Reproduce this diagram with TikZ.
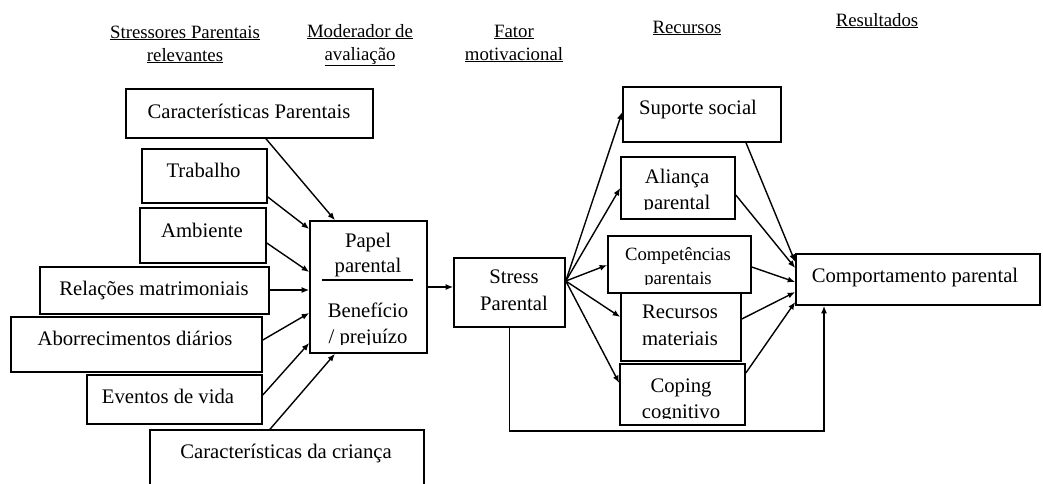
\documentclass[tikz,border=0pt]{standalone}
\usepackage{fontspec}
\setmainfont{Liberation Serif}
\usetikzlibrary{arrows.meta,calc}
\tikzset{
  box/.style={draw, line width=1.6pt, inner sep=0pt},
  txt/.style={font=\fontsize{20.7}{24}\selectfont, inner sep=0pt, anchor=base},
  stxt/.style={font=\fontsize{18.7}{22}\selectfont, inner sep=0pt, anchor=base},
  hdr/.style={font=\fontsize{18.8}{22}\selectfont, inner sep=0pt, anchor=base},
  arr/.style={line width=1.4pt, -{Latex[length=7.5pt,width=6pt]}},
  ln/.style={line width=1.5pt}
}
\begin{document}
\begin{tikzpicture}[x=1pt,y=-1pt]
\clip (0,0) rectangle (1043,483);
\fill[white] (0,0) rectangle (1043,483);

% headers
\node[hdr] (h1a) at (185,38) {\underline{Stressores Parentais}};
\node[hdr] (h1b) at (185,61) {\underline{relevantes}};
\node[hdr] (h2a) at (360,37) {\underline{Moderador de}};
\node[hdr] (h2b) at (360,60) {\underline{avaliação}};
\node[hdr] (h3a) at (514,37) {\underline{Fator}};
\node[hdr] (h3b) at (514,60) {\underline{motivacional}};
\node[hdr] (h4) at (687,33) {\underline{Recursos}};
\node[hdr] (h5) at (877,26) {\underline{Resultados}};

% left boxes
\node[box, minimum width=247pt, minimum height=49pt] (cp) at (249.5,113.5) {};
\node[txt] (cpt) at (249,118) {Características Parentais};
\node[box, minimum width=125pt, minimum height=54pt] (trab) at (204.5,176) {};
\node[txt] (trabt) at (203.5,177) {Trabalho};
\node[box, minimum width=126pt, minimum height=55pt] (amb) at (203,235.5) {};
\node[txt] (ambt) at (202,237) {Ambiente};
\node[box, minimum width=229pt, minimum height=47pt] (rel) at (154.5,290.5) {};
\node[txt] (relt) at (154,295) {Relações matrimoniais};
\node[box, minimum width=251pt, minimum height=55pt] (abo) at (136.5,344.5) {};
\node[txt] (abot) at (135,345) {Aborrecimentos diários};
\node[box, minimum width=175pt, minimum height=49pt] (ev) at (174.5,399.5) {};
\node[txt] (evt) at (168,403) {Eventos de vida};
\node[box, minimum width=274pt, minimum height=70pt] (cc) at (287,465) {};
\node[txt] (cct) at (286,458) {Características da criança};

% papel parental
\node[box, minimum width=117pt, minimum height=132pt] (papel) at (368.5,287) {};
\node[txt] (pa1) at (368,247) {Papel};
\node[txt] (pa2) at (368,272) {parental};
\draw[ln] (322,280) -- (413,280);
\node[txt] (pa3) at (368,317) {Benefício};
\begin{scope}
\clip (300,320) rectangle (440,344.5);
\node[txt] (pa4) at (368,343) {/ prejuízo};
\end{scope}

% stress
\node[box, minimum width=111pt, minimum height=69pt] (stress) at (509.5,292.5) {};
\node[txt] (st1) at (514,283) {Stress};
\node[txt] (st2) at (514,310) {Parental};

% resources
\node[box, minimum width=158pt, minimum height=55pt] (sup) at (702,114.5) {};
\node[txt] (supt) at (698,114) {Suporte social};
\node[box, minimum width=114pt, minimum height=62pt] (ali) at (678,188) {};
\node[txt] (ali1) at (677,183) {Aliança};
\begin{scope}
\clip (600,186) rectangle (760,209.5);
\node[txt] (ali2) at (677,209) {parental};
\end{scope}
\node[box, minimum width=143pt, minimum height=57pt] (comp) at (679.5,264.5) {};
\node[stxt] (comp1) at (678,260) {Competências};
\begin{scope}
\clip (600,262) rectangle (760,284.5);
\node[stxt] (comp2) at (678,284) {parentais};
\end{scope}
\node[box, fill=white, minimum width=120pt, minimum height=68pt] (rec) at (681,327) {};
\node[txt] (rec1) at (680,318) {Recursos};
\node[txt] (rec2) at (680,345) {materiais};
\node[box, minimum width=125pt, minimum height=61pt] (cop) at (682.5,394.5) {};
\node[txt] (cop1) at (681,392) {Coping};
\begin{scope}
\clip (600,396) rectangle (760,418.5);
\node[txt] (cop2) at (681,418) {cognitivo};
\end{scope}

% result
\node[box, minimum width=244pt, minimum height=51pt] (comb) at (918,279.5) {};
\node[txt] (combt) at (915,282) {Comportamento parental};

% arrows into papel
\draw[arr] (cp.south -| 266,0) -- (papel.north -| 335,0);
\draw[arr] (trab.east |- 0,197) -- (papel.west |- 0,229);
\draw[arr] (amb.east |- 0,243) -- (papel.west |- 0,272);
\draw[arr] (rel.east |- 0,290) -- (papel.west |- 0,290);
\draw[arr] (abo.east |- 0,340) -- (papel.west |- 0,313);
\draw[arr] (ev.east |- 0,395) -- (papel.west |- 0,343);
\draw[arr] (cc.north -| 270,0) -- (papel.south -| 335,0);

% papel -> stress
\draw[arr] (papel.east |- 0,287) -- (stress.west |- 0,287);

% fan from stress
\coordinate (fan) at (stress.east |- 0,281);
\draw[arr] (fan) -- (sup.west |- 0,112);
\draw[arr] (fan) -- (ali.west |- 0,188);
\draw[arr] (fan) -- (comp.west |- 0,265);
\draw[arr] (fan) -- (rec.west |- 0,317);
\draw[arr] (fan) -- (cop.west |- 0,383);

% into comportamento
\draw[arr] (sup.south -| 746,0) -- (comb.west |- 0,262);
\draw[arr] (ali.east |- 0,195) -- (comb.west |- 0,268);
\draw[arr] (comp.east |- 0,267) -- (comb.west |- 0,282);
\draw[arr] (rec.east |- 0,319) -- (comb.west |- 0,292);
\draw[arr] (cop.east |- 0,373) -- (comb.west |- 0,302);

% direct path
\coordinate (low) at (824,431);
\draw[arr] (stress.south) |- (low) -- (comb.south -| low);
\end{tikzpicture}
\end{document}
